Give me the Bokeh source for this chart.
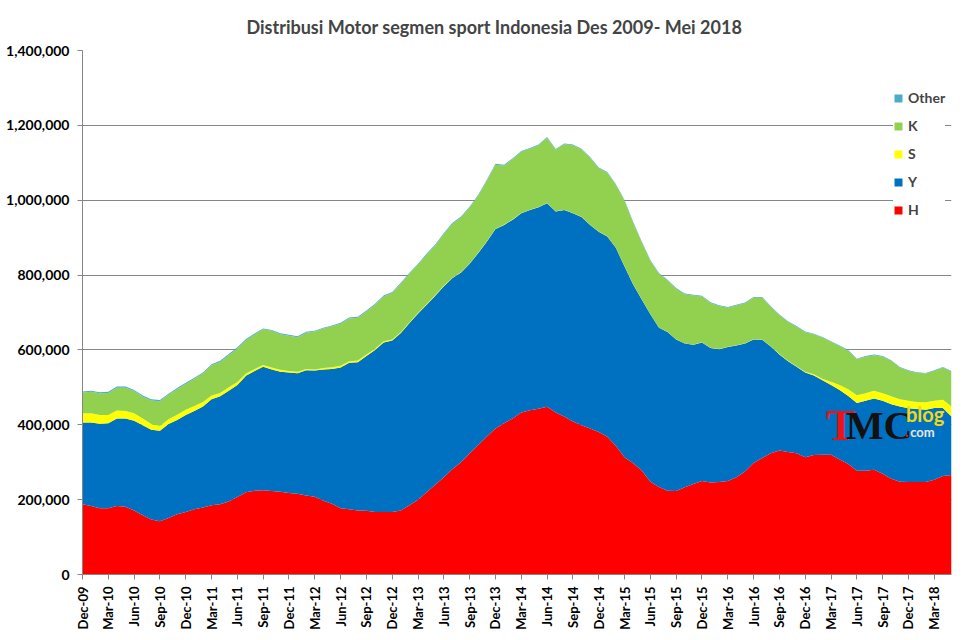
import math
from bokeh.plotting import figure
from bokeh.models import (ColumnDataSource, Range1d, FixedTicker, NumeralTickFormatter,
                          Legend, LegendItem, Label)
from bokeh.embed import file_html
from bokeh.resources import INLINE

# monthly distribution, Dec-2009 .. May-2018 (102 months)
H = [188000, 183000, 177000, 177000, 183000, 181000, 171000, 158000, 147000, 142000,
     151000, 161000, 167000, 174000, 179000, 185000, 188000, 195000, 207000, 220000,
     224000, 225000, 223000, 221000, 218000, 216000, 211000, 208000, 197000, 189000,
     177000, 174000, 171000, 170000, 167000, 167000, 167000, 171000, 185000, 200000,
     220000, 240000, 260000, 282000, 300000, 324000, 346000, 369000, 390000, 404000,
     417000, 433000, 439000, 443000, 448000, 433000, 422000, 409000, 399000, 390000,
     381000, 368000, 343000, 313000, 297000, 278000, 248000, 234000, 224000, 223000,
     233000, 242000, 250000, 246000, 247000, 250000, 260000, 275000, 298000, 311000,
     324000, 331000, 327000, 324000, 313000, 319000, 320000, 320000, 307000, 295000,
     277000, 277000, 280000, 269000, 256000, 248000, 247000, 247000, 247000, 253000,
     263000, 266000]
Y = [218000, 223000, 226000, 227000, 234000, 236000, 240000, 241000, 240000, 242000,
     251000, 252000, 259000, 263000, 270000, 283000, 288000, 296000, 299000, 311000,
     320000, 330000, 325000, 321000, 322000, 322000, 335000, 337000, 351000, 360000,
     376000, 392000, 396000, 414000, 433000, 453000, 458000, 474000, 487000, 497000,
     501000, 505000, 510000, 510000, 507000, 506000, 513000, 521000, 533000, 530000,
     531000, 532000, 535000, 538000, 544000, 537000, 552000, 556000, 556000, 544000,
     535000, 535000, 529000, 510000, 478000, 457000, 447000, 425000, 424000, 405000,
     384000, 372000, 370000, 359000, 355000, 358000, 352000, 342000, 330000, 316000,
     285000, 257000, 243000, 231000, 227000, 213000, 199000, 186000, 186000, 182000,
     181000, 187000, 190000, 195000, 199000, 201000, 197000, 195000, 193000, 192000,
     182000, 156000]
S = [25000, 25000, 23000, 22000, 21000, 20000, 20000, 18000, 15000, 13000,
     13000, 14000, 14000, 13000, 12000, 10000, 9000, 9000, 8000, 6000,
     5000, 5000, 5000, 5000, 4000, 4000, 3000, 3000, 4000, 5000,
     5000, 4000, 5000, 4000, 3000, 3000, 3000, 3000, 2000, 2000,
     2000, 2000, 2000, 1000, 1000, 1000, 1000, 1000, 1000, 1000,
     900, 800, 800, 700, 700, 600, 600, 600, 500, 500,
     500, 500, 500, 400, 400, 400, 400, 400, 400, 500,
     500, 500, 500, 500, 500, 600, 600, 600, 700, 700,
     800, 900, 1000, 1200, 1500, 3000, 4000, 9000, 13000, 18000,
     21000, 20000, 21000, 20000, 21000, 19000, 20000, 19000, 20000, 19000,
     22000, 27000]
K = [55000, 57000, 58000, 59000, 61000, 62000, 59000, 58000, 63000, 66000,
     65000, 68000, 69000, 73000, 76000, 81000, 83000, 86000, 90000, 89000,
     92000, 95000, 98000, 95000, 94000, 92000, 97000, 101000, 105000, 109000,
     112000, 114000, 114000, 115000, 118000, 120000, 124000, 129000, 130000, 129000,
     132000, 132000, 138000, 144000, 146000, 150000, 152000, 161000, 171000, 157000,
     161000, 164000, 163000, 165000, 174000, 164000, 175000, 181000, 180000, 179000,
     169000, 170000, 168000, 175000, 165000, 152000, 143000, 144000, 137000, 135000,
     131000, 131000, 122000, 120000, 115000, 104000, 106000, 107000, 111000, 112000,
     105000, 104000, 104000, 106000, 106000, 107000, 110000, 107000, 104000, 103000,
     96000, 98000, 95000, 98000, 95000, 85000, 80000, 78000, 77000, 80000,
     86000, 93000]
OTHER = [3000, 3000, 3000, 3000, 3000, 3000, 3000, 3000, 3000, 3000,
         3000, 3000, 3000, 3000, 3000, 3000, 3000, 3000, 3000, 3000,
         3000, 2500, 2500, 2500, 2500, 2500, 2500, 2500, 2500, 2500,
         2500, 2500, 2500, 2500, 2500, 2500, 2500, 2500, 2500, 2500,
         2500, 2500, 2500, 2500, 2500, 2500, 2500, 2500, 2500, 2500,
         2500, 2000, 2000, 2000, 2000, 2000, 2000, 2000, 2000, 2000,
         2000, 2000, 2000, 2000, 2000, 2000, 2000, 2000, 2000, 2000,
         2000, 2000, 2000, 2000, 2000, 2000, 2000, 2000, 2000, 2000,
         2000, 1500, 1500, 1500, 1500, 1500, 1500, 1500, 1500, 1500,
         1500, 1500, 1500, 1500, 1500, 1500, 1500, 1500, 1500, 1500,
         1500, 1500]

tick_labels = ["Dec-09", "Mar-10", "Jun-10", "Sep-10", "Dec-10", "Mar-11", "Jun-11",
               "Sep-11", "Dec-11", "Mar-12", "Jun-12", "Sep-12", "Dec-12", "Mar-13",
               "Jun-13", "Sep-13", "Dec-13", "Mar-14", "Jun-14", "Sep-14", "Dec-14",
               "Mar-15", "Jun-15", "Sep-15", "Dec-15", "Mar-16", "Jun-16", "Sep-16",
               "Dec-16", "Mar-17", "Jun-17", "Sep-17", "Dec-17", "Mar-18"]
y_ticks = [0, 200000, 400000, 600000, 800000, 1000000, 1200000, 1400000]

series = ["H", "Y", "S", "K", "Other"]
colors = ["#FF0000", "#0070C0", "#FFFF00", "#92D050", "#4BACC6"]

months = list(range(len(H)))
tick_pos = [months[i] for i in range(0, len(months), 3)][:len(tick_labels)]

source = ColumnDataSource(data=dict(x=months, H=H, Y=Y, S=S, K=K, Other=OTHER))

FONT = "Lato"

p = figure(width=971, height=632, output_backend="svg", toolbar_location=None,
           x_range=Range1d(0, months[-1]), y_range=Range1d(0, 1400000),
           min_border_left=82, min_border_right=20, min_border_top=50, min_border_bottom=56)

# left aligned + offset so the title is centred on the whole chart
p.title.text = "Distribusi Motor segmen sport Indonesia Des 2009- Mei 2018"
p.title.text_font = FONT
p.title.text_font_size = "18px"
p.title.text_font_style = "bold"
p.title.align = "left"
p.title.offset = 164
p.title.standoff = 26

areas = p.varea_stack(stackers=series, x="x", color=colors, source=source)

legend = Legend(items=[LegendItem(label=series[i], renderers=[areas[i]]) for i in [4, 3, 2, 1, 0]],
                location=(811, 356), orientation="vertical",
                label_text_font=FONT, label_text_font_style="bold", label_text_font_size="14px",
                glyph_width=10, glyph_height=10, label_height=14, spacing=11,
                padding=6, margin=0, border_line_color=None, background_fill_color="white",
                background_fill_alpha=1.0, label_standoff=5)
p.add_layout(legend)

# TMC blog watermark
for txt, xx, yy, col, fnt, size in [("T", 86.4, 399000, "#E8141B", "Liberation Serif", "44px"),
                                    ("MC", 88.7, 399000, "#111111", "Liberation Serif", "40px"),
                                    ("blog", 95.7, 429000, "#F2D90E", FONT, "20px"),
                                    (".", 95.6, 381000, "#E8141B", FONT, "15px"),
                                    ("com", 96.2, 381000, "#E6E6E6", FONT, "13px")]:
    p.add_layout(Label(x=xx, y=yy, text=txt, text_color=col, text_font=fnt,
                       text_font_size=size, text_font_style="bold", text_baseline="alphabetic"))

p.outline_line_color = None
p.xgrid.visible = False
p.ygrid.grid_line_color = "#868686"

p.xaxis.ticker = FixedTicker(ticks=tick_pos)
p.xaxis.major_label_overrides = {pos: lab for pos, lab in zip(tick_pos, tick_labels)}
p.xaxis.major_label_orientation = math.pi / 2
p.xaxis.major_label_standoff = 7
p.yaxis.ticker = FixedTicker(ticks=y_ticks)
p.yaxis.formatter = NumeralTickFormatter(format="0,0")
p.yaxis.major_label_standoff = 8

for ax in (p.xaxis, p.yaxis):
    ax.axis_line_color = "#868686"
    ax.major_tick_line_color = "#868686"
    ax.minor_tick_line_color = None
    ax.major_tick_in = 0
    ax.major_tick_out = 5
    ax.major_label_text_font = FONT
    ax.major_label_text_font_style = "bold"
    ax.major_label_text_font_size = "13px"
    ax.major_label_text_color = "black"
p.yaxis.major_label_text_font_size = "14px"

open("out.html", "w").write(file_html(p, INLINE))
